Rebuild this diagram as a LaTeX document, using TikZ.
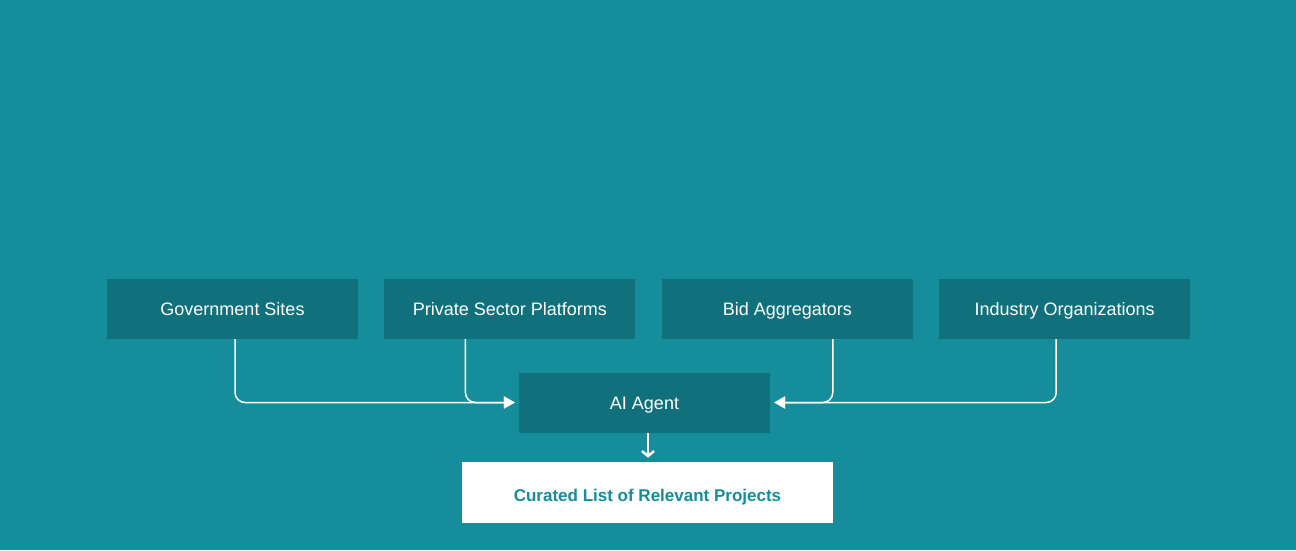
\documentclass[tikz,border=0pt]{standalone}
\usepackage{fontspec}
\setmainfont{Liberation Sans}
\usepackage{tikz}
\usetikzlibrary{arrows.meta, positioning}

\definecolor{tealbg}{RGB}{22,141,155}
\definecolor{tealbox}{RGB}{16,113,125}

\begin{document}
\begin{tikzpicture}[
    x=1pt, y=-1pt,
    >=Latex,
    node distance=26pt,
    sourcenode/.style={fill=tealbox, rectangle,
        minimum width=251pt, minimum height=60pt,
        text height=13pt, text depth=0pt,
        align=center, text=white, font=\fontsize{18}{21}\selectfont},
    resultnode/.style={fill=white, rectangle,
        minimum width=371pt, minimum height=61pt,
        text height=19pt, text depth=0pt,
        align=center, text=tealbg, font=\fontsize{17}{20}\selectfont\bfseries},
    feedline/.style={draw=white, line width=1.5pt, rounded corners=10pt,
        shorten >=4pt, -{Triangle[length=11pt, width=12pt]}},
    outline/.style={draw=white, line width=2.5pt,
        -{Straight Barb[length=5pt, width=12pt, line width=2.5pt]}}
]
\fill[tealbg] (0,0) rectangle (1296,550);
\useasboundingbox (0,0) rectangle (1296,550);

\node[sourcenode] (gov) at (232.5,309) {Government Sites};
\node[sourcenode, right=of gov]     (private)  {Private Sector Platforms};
\node[sourcenode, right=of private] (bid)      {Bid Aggregators};
\node[sourcenode, right=of bid]     (industry) {Industry Organizations};

\node[sourcenode] (agent) at (644.5,402.5) {AI Agent};
\node[resultnode, below=29pt of agent, xshift=3pt] (result)
    {Curated List of Relevant Projects};

\draw[feedline] ([xshift=2.5pt]gov.south)      |- (agent.west);
\draw[feedline] ([xshift=-44.5pt]private.south) |- (agent.west);
\draw[feedline] ([xshift=45.5pt]bid.south)      |- (agent.east);
\draw[feedline] ([xshift=-8.5pt]industry.south) |- (agent.east);
\draw[outline] ([xshift=3.5pt]agent.south) -- ([xshift=0.5pt,yshift=4pt]result.north);
\end{tikzpicture}
\end{document}
